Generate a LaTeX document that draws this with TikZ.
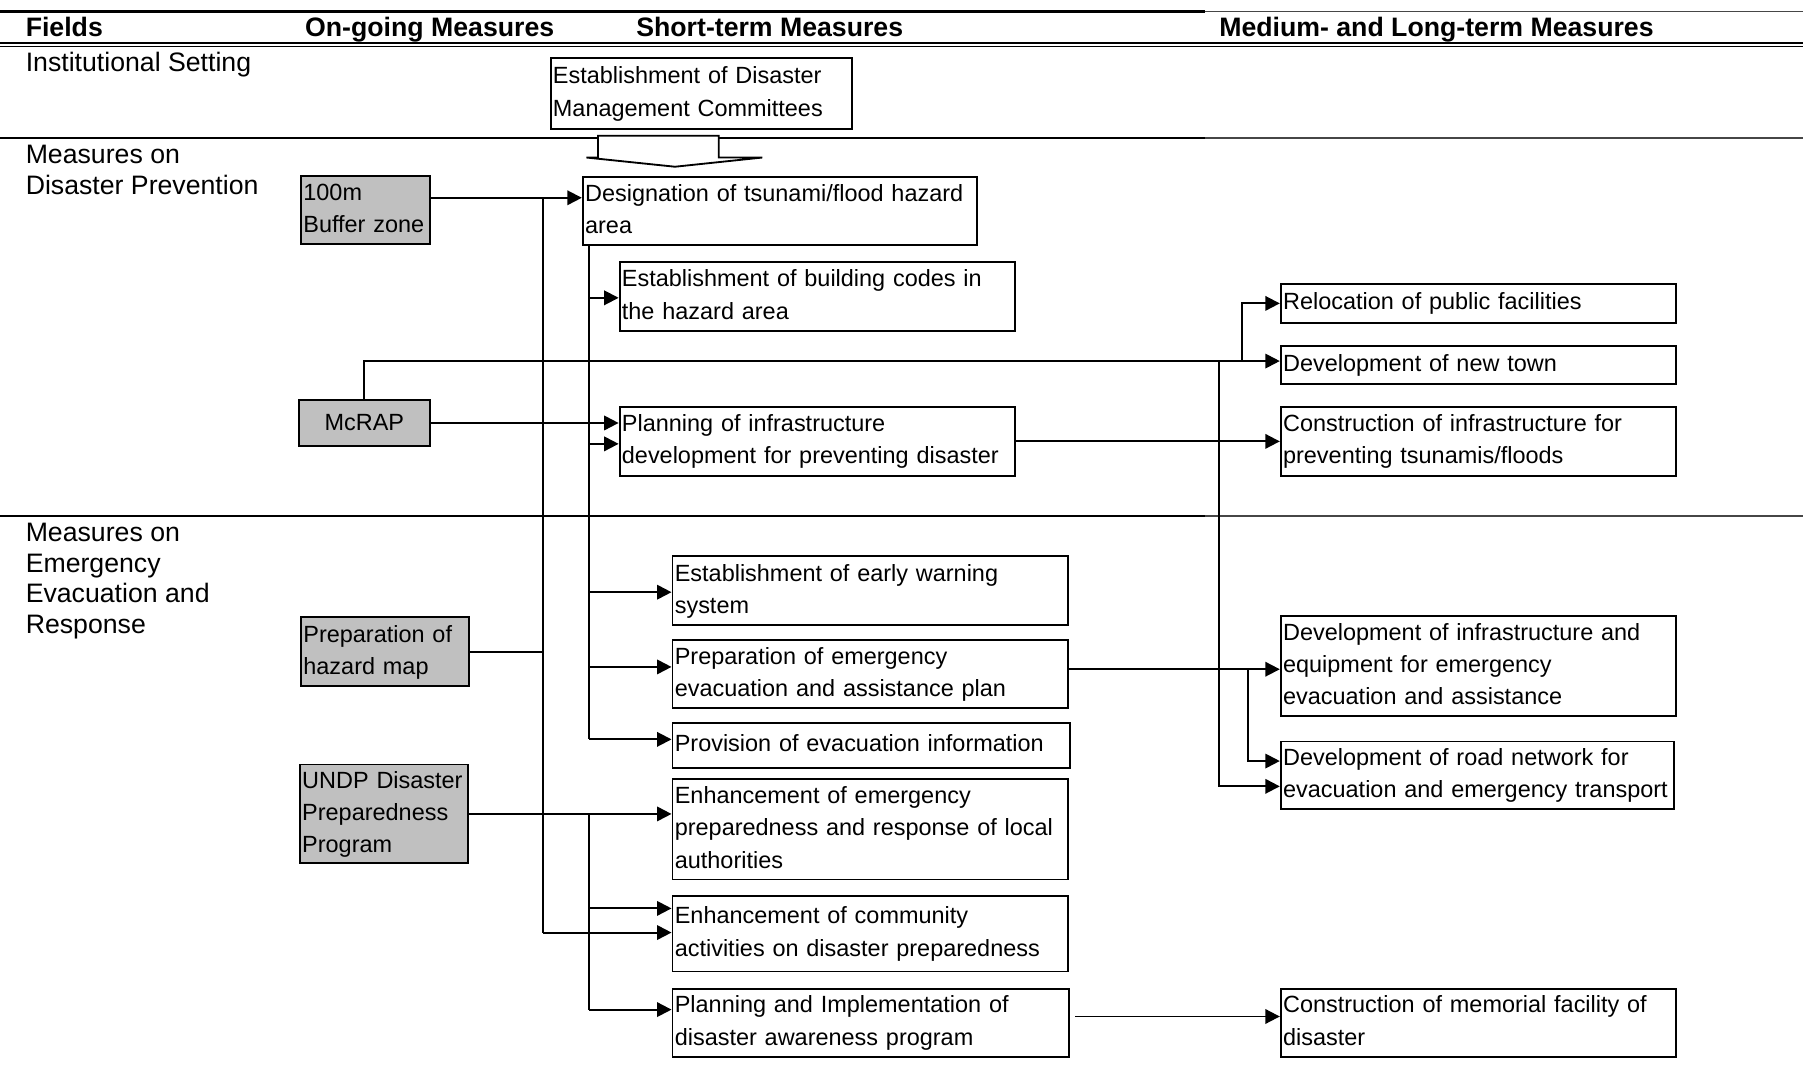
\documentclass[tikz,border=0pt]{standalone}
\usepackage{fontspec}
\setmainfont{Liberation Sans}
\usetikzlibrary{arrows.meta}
\definecolor{shade}{RGB}{192,192,192}
\definecolor{ruleright}{RGB}{70,70,70}
\newcommand\bodyfont{\fontsize{10.2}{14}\selectfont}
\newcommand\lblfont{\fontsize{11.6}{13.5}\selectfont}
\newcommand\hdrfont{\bfseries\fontsize{11.6}{14}\selectfont}
% box given by its corners (x1,y1)-(x2,y2); text left aligned, one row per line
\newcommand\bx[7][white]{%
  \pgfmathsetmacro\bxw{(#5-#3)*0.5-2}%
  \pgfmathsetmacro\bxh{(#6-#4)*0.5}%
  \node[box, fill=#1, anchor=north west, text width=\bxw pt, minimum height=\bxh pt]
    (#2) at (#3,#4) {\raisebox{-1.2pt}{\begin{tabular}{@{}l@{}}#7\end{tabular}}};}
\tikzset{
  box/.style={draw, line width=0.85pt, inner xsep=1pt, inner ysep=0pt, align=left, font=\bodyfont},
  lbl/.style={anchor=base west, inner sep=0pt, font=\lblfont},
  hdr/.style={anchor=base west, inner sep=0pt, font=\hdrfont},
  conn/.style={line width=0.85pt},
  arr/.style={line width=0.85pt, -{Triangle[length=6.3pt,width=6.3pt]}},
  rulethick/.style={line width=0.9pt},
  rulethin/.style={line width=0.75pt, ruleright},
}
\begin{document}
\begin{tikzpicture}[x=0.5pt, y=-0.5pt]
\useasboundingbox (0,0) rectangle (1568,931);

% table rules
\draw[rulethick] (0,10) -- (1048,10);
\draw[rulethin] (1048,10) -- (1568,10);
\draw[rulethick] (0,37) -- (1568,37);
\draw[line width=0.45pt] (0,40.3) -- (1568,40.3);
\foreach \y in {120,449}{
  \draw[rulethick] (0,\y) -- (1048,\y);
  \draw[rulethin] (1048,\y) -- (1568,\y);
}

% column headings
\node[hdr] (hF) at (22,31.5) {Fields};
\node[hdr] (hO) at (265,31.5) {On-going Measures};
\node[hdr] (hS) at (553,31.5) {Short-term Measures};
\node[hdr] (hM) at (1060,31.5) {Medium- and Long-term Measures};

% row headings
\node[lbl] (r1) at (22,62) {Institutional Setting};
\node[lbl] (r2a) at (22,142) {Measures on};
\node[lbl] (r2b) at (22,169) {Disaster Prevention};
\node[lbl] (r3a) at (22,471) {Measures on};
\node[lbl] (r3b) at (22,498) {Emergency};
\node[lbl] (r3c) at (22,524) {Evacuation and};
\node[lbl] (r3d) at (22,551) {Response};

% boxes
\bx{est}{478}{50}{740}{111}{Establishment of Disaster\\Management Committees}
\bx[shade]{buf}{261}{152}{373}{211}{100m\\Buffer zone}
\bx{des}{506}{153}{849}{212}{Designation of tsunami/flood hazard\\area}
\bx{bld}{538}{227}{882}{287}{Establishment of building codes in\\the hazard area}
\node[box, fill=shade, anchor=north west, minimum width=57pt, minimum height=20pt]
  (mcr) at (259,347) {McRAP};
\bx{pln}{538}{353}{882}{413}{Planning of infrastructure\\development for preventing disaster}
\bx{rel}{1113}{246}{1457}{280}{Relocation of public facilities}
\bx{ntw}{1113}{300}{1457}{333}{Development of new town}
\bx{cin}{1113}{353}{1457}{413}{Construction of infrastructure for\\preventing tsunamis/floods}
\bx{ewa}{584}{483}{928}{543}{Establishment of early warning\\system}
\bx{eep}{584}{556}{928}{615}{Preparation of emergency\\evacuation and assistance plan}
\bx{pev}{584}{628}{930}{667}{Provision of evacuation information}
\bx[shade]{haz}{261}{536}{407}{596}{Preparation of\\hazard map}
\bx[shade]{und}{260}{664}{406}{750}{UNDP Disaster\\Preparedness\\Program}
\bx{ene}{584}{677}{928}{764}{Enhancement of emergency\\preparedness and response of local\\authorities}
\bx{com}{584}{778}{928}{844}{Enhancement of community\\activities on disaster preparedness}
\bx{paw}{584}{859}{929}{918}{Planning and Implementation of\\disaster awareness program}
\bx{dinf}{1113}{535}{1457}{622}{Development of infrastructure and\\equipment for emergency\\evacuation and assistance}
\bx{road}{1113}{644}{1455}{703}{Development of road network for\\evacuation and emergency transport}
\bx{mem}{1113}{859}{1457}{918}{Construction of memorial facility of\\disaster}

% hollow arrow from the committees down to the measures
\draw[line width=0.8pt, fill=white] (520,118) -- (520,137) -- (510,137) -- (587,145)
  -- (663,137) -- (625,137) -- (625,118) -- cycle;

% trunk at x=472: buffer zone and hazard map
\coordinate (tA1) at (472,172);
\coordinate (tA2) at (472,811);
\draw[arr] (buf.east |- tA1) -- (des.west |- tA1);
\draw[conn] (tA1) -- (tA2);
\draw[conn] (haz.east) -- (haz.east -| tA1);
\draw[arr] (tA2) -- (com.west |- tA2);

% trunk at x=512 below the hazard area designation
\coordinate (tB) at (512,643);
\draw[conn] (des.south -| tB) -- (tB);
\foreach \n/\y in {bld/259,pln/386,ewa/515,eep/580,pev/643}{
  \coordinate (b\n) at (512,\y);
  \draw[arr] (b\n) -- (\n.west |- b\n);
}

% McRAP
\coordinate (mline) at (1113,314);
\draw[arr] (mcr.east) -- (pln.west |- mcr.east);
\draw[arr] (mcr.north) |- (ntw.west |- mline);
\coordinate (k1) at (1080,314);
\coordinate (k2) at (1060,314);
\draw[arr] (k1) |- (rel.west);
\draw[arr] (k2) |- ([yshift=-4.75pt]road.west);
\draw[arr] (pln.east) -- (cin.west);

% emergency plan to long-term works
\coordinate (e1) at (1085,582);
\draw[arr] (eep.east |- e1) -- (dinf.west |- e1);
\draw[arr] (e1) |- ([yshift=6.25pt]road.west);

% UNDP programme
\coordinate (tc) at (512,878);
\draw[arr] (und.east) -- (ene.west |- und.east);
\draw[conn] (und.east -| tc) -- (tc);
\coordinate (c1) at (512,790);
\draw[arr] (c1) -- (com.west |- c1);
\draw[arr] (tc) -- (paw.west |- tc);

% awareness programme to memorial
\coordinate (m1) at (935,884);
\draw[arr] (m1) -- (mem.west |- m1);
\end{tikzpicture}
\end{document}
